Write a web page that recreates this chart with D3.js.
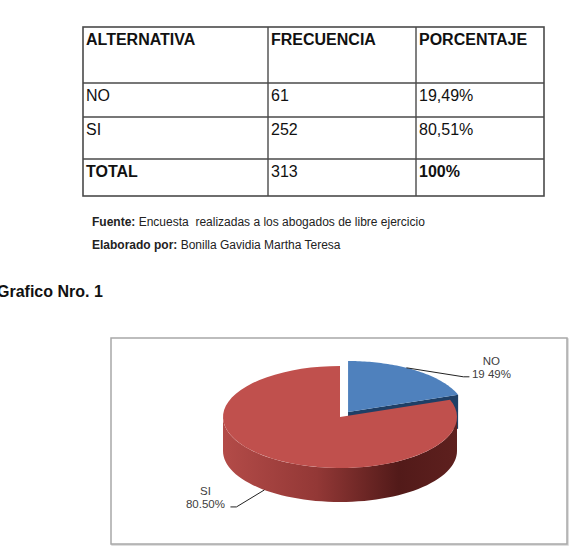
<!DOCTYPE html>
<html>
<head>
<meta charset="utf-8">
<script src="https://cdn.jsdelivr.net/npm/d3@7"></script>
<style>
  body { margin: 0; background: #fff; }
  svg { display: block; }
</style>
</head>
<body>
<div id="graf"></div>
<script>
// datos del cuadro
const encabezados = ["ALTERNATIVA", "FRECUENCIA", "PORCENTAJE"]
const alternativas = ["NO", "SI"]
const frecuencias = [61, 252]
const porcentajes = ["19,49%", "80,51%"]
const total = ["TOTAL", "313", "100%"]
// etiquetas del grafico (tal como aparecen)
const etiquetasPie = ["19 49%", "80.50%"]

const ancho = 572
const alto = 553

const svg = d3.select("#graf")
  .append("svg")
  .attr("width", ancho)
  .attr("height", alto)
  .style("font-family", "'Liberation Sans', Arial, sans-serif")

// titulo cortado arriba
svg.append("text")
  .attr("x", -4).attr("y", 0)
  .attr("font-size", 16).attr("font-weight", "bold")
  .attr("fill", "#444")
  .text("Cuadro Nro. 1")

//#######################################
//         tabla
//#######################################
const colX = [83, 268, 416, 544]
const rowY = [27, 83, 117, 159, 196]

const filas = [
  encabezados,
  [alternativas[0], String(frecuencias[0]), porcentajes[0]],
  [alternativas[1], String(frecuencias[1]), porcentajes[1]],
  total
]
const negrita = [[true, true, true], [false, false, false], [false, false, false], [true, false, true]]

const tabla = svg.append("g")
tabla.append("rect")
  .attr("x", colX[0]).attr("y", rowY[0])
  .attr("width", colX[3] - colX[0]).attr("height", rowY[4] - rowY[0])
  .attr("fill", "none").attr("stroke", "#4a4a4a").attr("stroke-width", 1.6)

rowY.slice(1, -1).forEach(y => {
  tabla.append("line")
    .attr("x1", colX[0]).attr("x2", colX[3]).attr("y1", y).attr("y2", y)
    .attr("stroke", "#4a4a4a").attr("stroke-width", 1.4)
})
colX.slice(1, -1).forEach(x => {
  tabla.append("line")
    .attr("x1", x).attr("x2", x).attr("y1", rowY[0]).attr("y2", rowY[4])
    .attr("stroke", "#4a4a4a").attr("stroke-width", 1.4)
})

filas.forEach((fila, i) => {
  fila.forEach((t, j) => {
    tabla.append("text")
      .attr("x", colX[j] + 3)
      .attr("y", rowY[i] + 18)
      .attr("font-size", 16)
      .attr("font-weight", negrita[i][j] ? "bold" : "normal")
      .attr("fill", "#111")
      .text(t)
  })
})

// notas
const nota1 = svg.append("text").attr("x", 92).attr("y", 226).attr("font-size", 12).attr("fill", "#222")
  .attr("xml:space", "preserve")
nota1.append("tspan").attr("font-weight", "bold").text("Fuente:")
nota1.append("tspan").text(" Encuesta  realizadas a los abogados de libre ejercicio")
const nota2 = svg.append("text").attr("x", 92).attr("y", 249).attr("font-size", 12).attr("fill", "#222")
nota2.append("tspan").attr("font-weight", "bold").text("Elaborado por:")
nota2.append("tspan").text(" Bonilla Gavidia Martha Teresa")

svg.append("text")
  .attr("x", -3).attr("y", 297)
  .attr("font-size", 16).attr("font-weight", "bold")
  .attr("fill", "#111")
  .text("Grafico Nro. 1")

//#######################################
//         grafico pie 3D
//#######################################
// marco
svg.append("rect")
  .attr("x", 112).attr("y", 339).attr("width", 456).attr("height", 206)
  .attr("fill", "none").attr("stroke", "#d4d4d4").attr("stroke-width", 1.5)
svg.append("rect")
  .attr("x", 111).attr("y", 338).attr("width", 456).attr("height", 206)
  .attr("fill", "#fff").attr("stroke", "#a8a8a8").attr("stroke-width", 1.5)

const cx = 340, cy = 417, rx = 117, ry = 51, prof = 34
const explota = 14

const defs = svg.append("defs")
const grad = defs.append("linearGradient")
  .attr("id", "ladoRojo")
  .attr("gradientUnits", "userSpaceOnUse")
  .attr("x1", cx - rx).attr("x2", cx + rx).attr("y1", 0).attr("y2", 0)
grad.append("stop").attr("offset", "0%").attr("stop-color", "#b34b48")
grad.append("stop").attr("offset", "40%").attr("stop-color", "#933836")
grad.append("stop").attr("offset", "75%").attr("stop-color", "#521a19")
grad.append("stop").attr("offset", "100%").attr("stop-color", "#5e201e")

const color = d3.scaleOrdinal().domain(alternativas).range(["#4f81bd", "#c0504d"])
const colorCara = d3.scaleOrdinal().domain(alternativas).range(["#1f3f66", "#7a2b29"])
const colorLado = d3.scaleOrdinal().domain(alternativas).range(["#2c5282", "url(#ladoRojo)"])

const pie = d3.pie().sort(null).value(d => d.v)
const arcos = pie(alternativas.map((a, i) => ({ a, v: frecuencias[i], e: etiquetasPie[i] })))

// punto en perspectiva
const punto = (ang, k, ox, oy, z) => [
  cx + ox + rx * k * Math.sin(ang),
  cy + oy - ry * k * Math.cos(ang) + z
]

const muestras = (a0, a1) => d3.range(0, 61).map(i => a0 + (a1 - a0) * i / 60)
const linea = d3.line()

const desplaz = d => {
  if (d.data.a !== "NO") return [0, 0]
  const m = (d.startAngle + d.endAngle) / 2
  return [explota * Math.sin(m), -explota * (ry / rx) * Math.cos(m)]
}

const pieG = svg.append("g")

arcos.forEach(d => {
  const [ox, oy] = desplaz(d)
  const g = pieG.append("g")

  // cara radial final (visible cuando la porcion esta separada)
  if (d.data.a === "NO") {
    const c = punto(0, 0, ox, oy, 0), e = punto(d.endAngle, 1, ox, oy, 0)
    g.append("path")
      .attr("d", linea([c, e, [e[0], e[1] + prof], [c[0], c[1] + prof]]) + "Z")
      .attr("fill", colorCara(d.data.a))
  }

  // pared exterior frontal
  const a0 = Math.max(d.startAngle, Math.PI / 2)
  const a1 = Math.min(d.endAngle, 3 * Math.PI / 2)
  if (a1 > a0) {
    const arriba = muestras(a0, a1).map(a => punto(a, 1, ox, oy, 0))
    const abajo = muestras(a0, a1).reverse().map(a => punto(a, 1, ox, oy, prof))
    g.append("path")
      .attr("d", linea(arriba.concat(abajo)) + "Z")
      .attr("fill", colorLado(d.data.a))
  }

  // superficie
  const sup = [punto(0, 0, ox, oy, 0)].concat(muestras(d.startAngle, d.endAngle).map(a => punto(a, 1, ox, oy, 0)))
  g.append("path")
    .attr("d", linea(sup) + "Z")
    .attr("fill", color(d.data.a))
})

// etiquetas con lineas guia
const etiq = svg.append("g")
  .attr("font-family", "'Liberation Sans', Arial, sans-serif")
  .attr("font-size", 11.5)
  .attr("fill", "#404040")

arcos.forEach(d => {
  const [ox, oy] = desplaz(d)
  const m = (d.startAngle + d.endAngle) / 2
  let ini, codo, fin, tx, ty
  if (d.data.a === "NO") {
    ini = punto(m - 0.09, 1, ox, oy, 0)
    codo = [ini[0] + 57, ini[1] + 9]
    fin = [codo[0] + 6, codo[1]]
    tx = fin[0] + 22; ty = fin[1] - 12
  } else {
    ini = punto(m + 0.09, 1, ox, oy, prof)
    codo = [ini[0] - 28, ini[1] + 17]
    fin = [codo[0] - 6, codo[1]]
    tx = fin[0] - 25; ty = fin[1] - 12
  }
  etiq.append("path")
    .attr("d", linea([ini, codo, fin]))
    .attr("fill", "none").attr("stroke", "#222").attr("stroke-width", 1)
  etiq.append("text").attr("x", tx).attr("y", ty).attr("text-anchor", "middle").text(d.data.a)
  etiq.append("text").attr("x", tx).attr("y", ty + 13.5).attr("text-anchor", "middle").text(d.data.e)
})
</script>
</body>
</html>
